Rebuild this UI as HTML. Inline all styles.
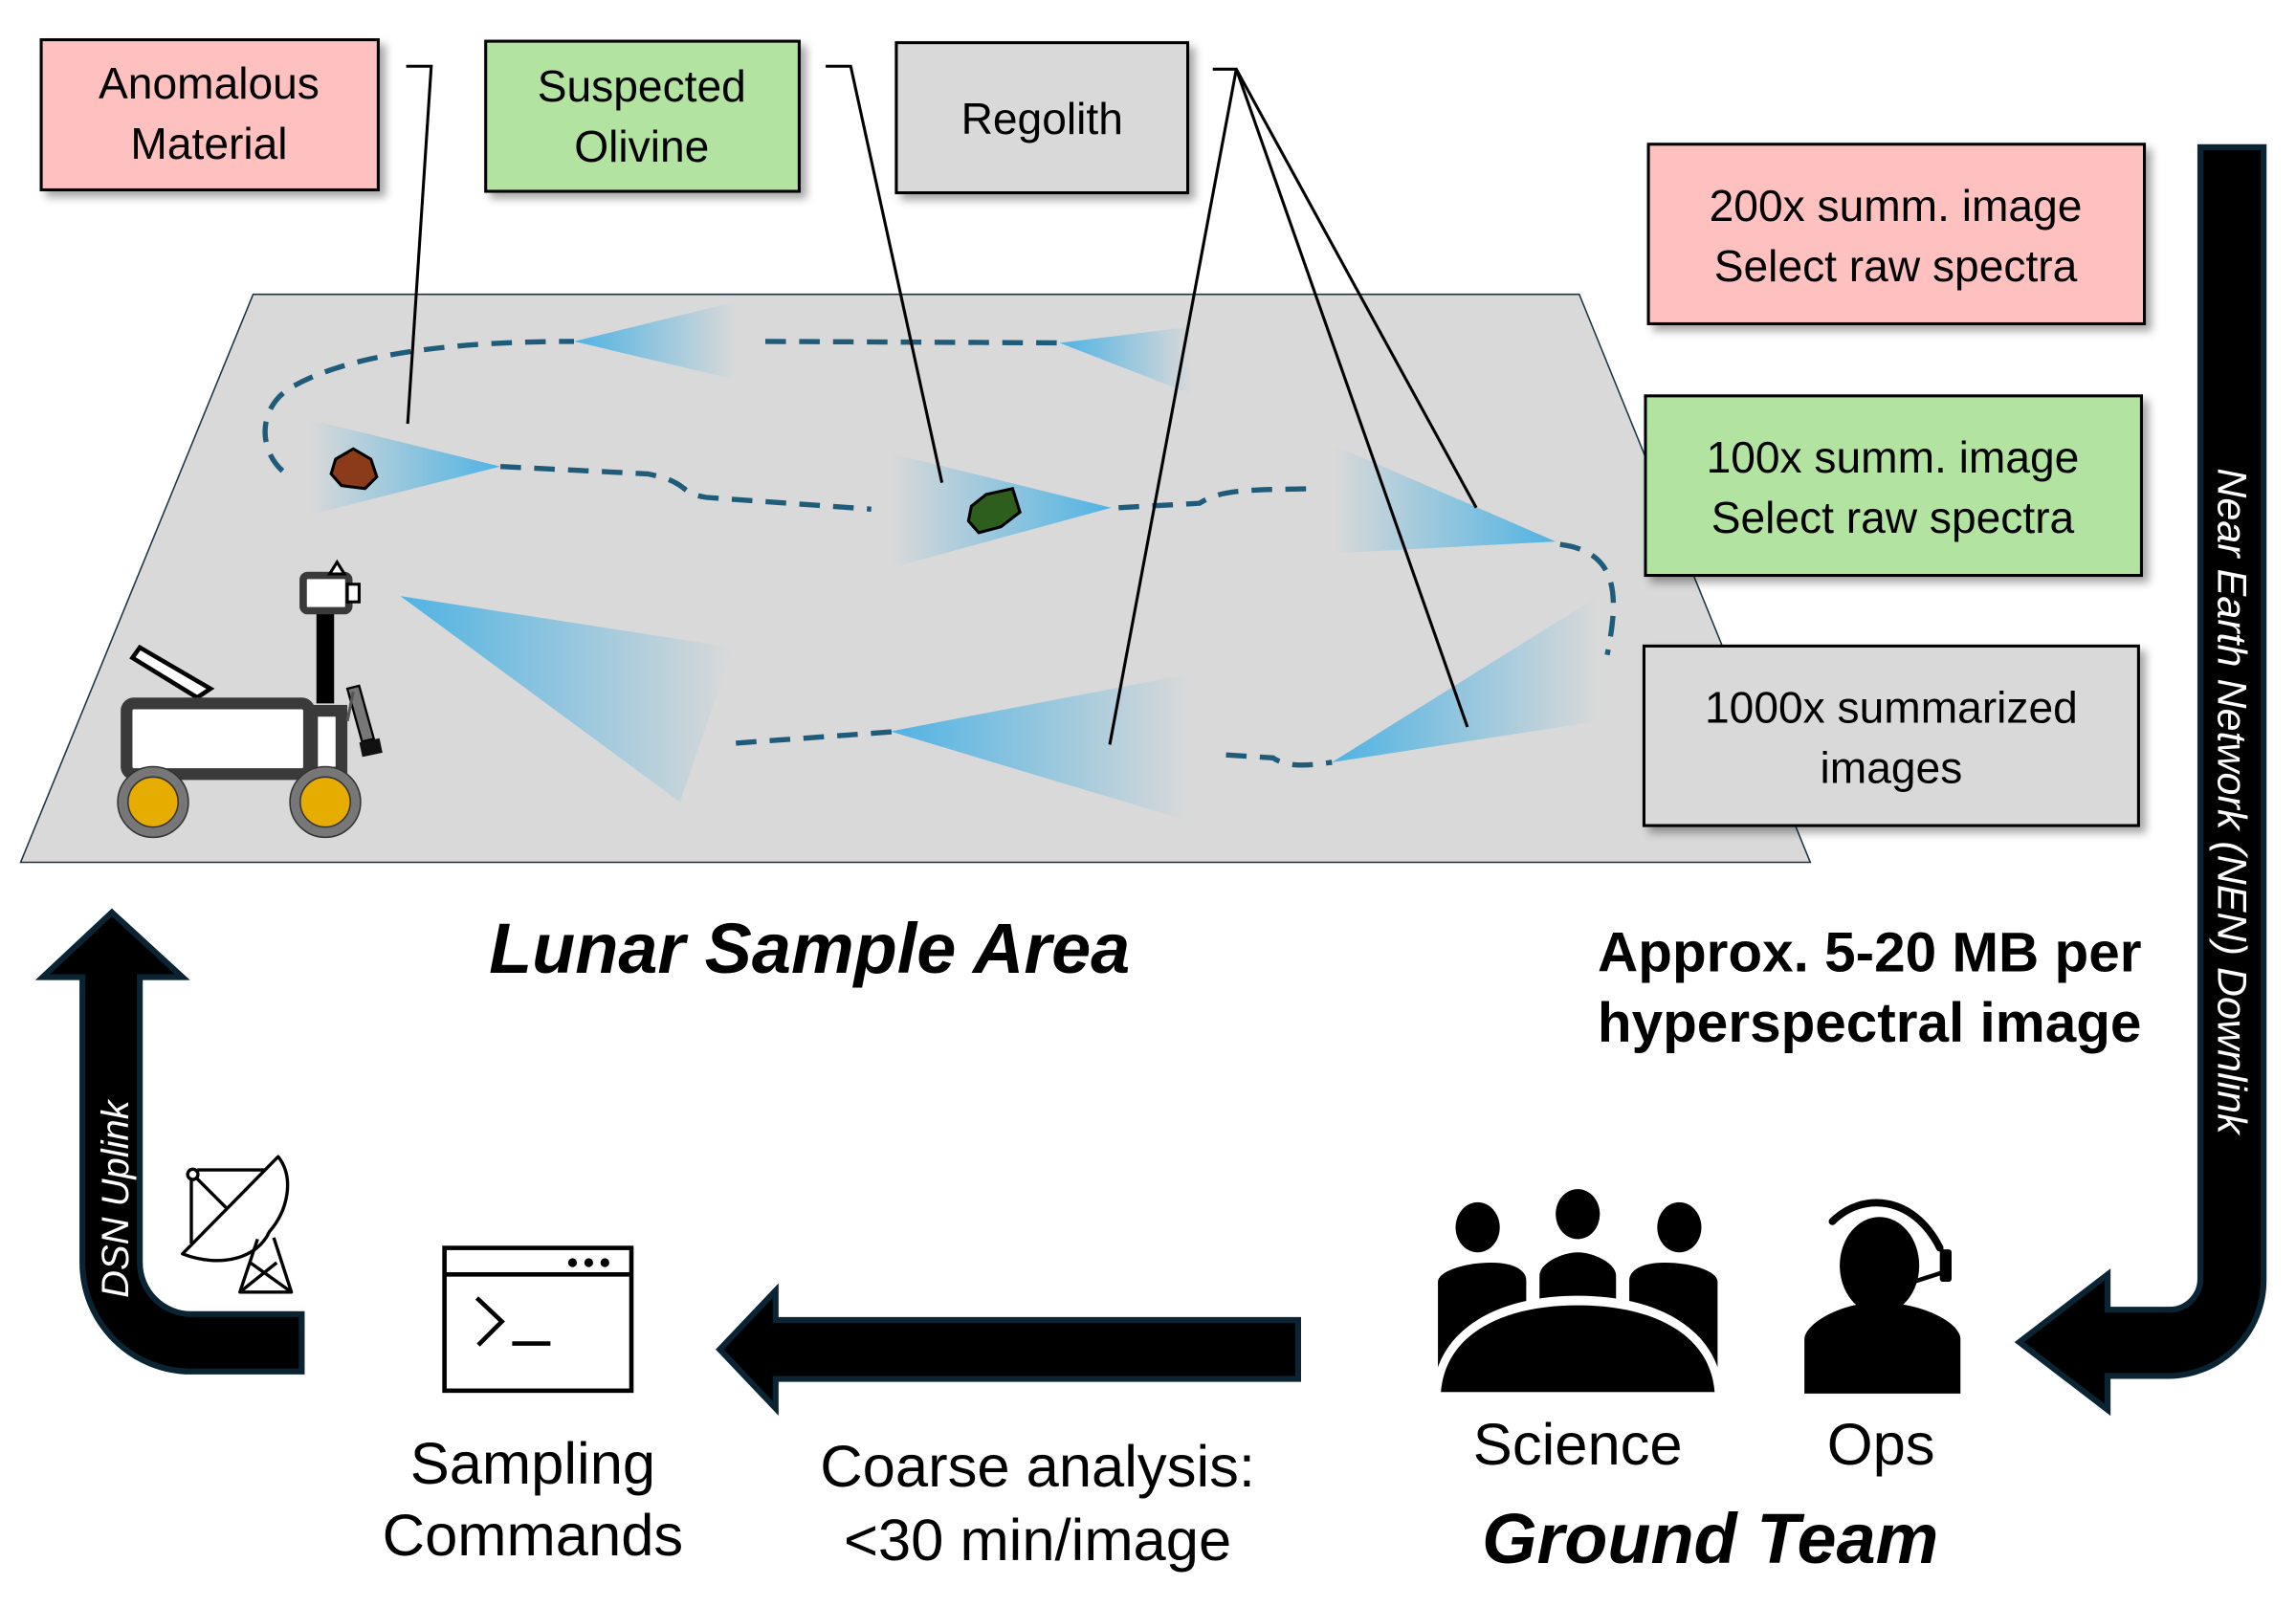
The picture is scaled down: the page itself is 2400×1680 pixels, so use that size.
<!DOCTYPE html>
<html><head><meta charset="utf-8"><style>
html,body{margin:0;padding:0;background:#fff;}
svg{display:block;}
text{font-family:"Liberation Sans","DejaVu Sans",sans-serif;}
</style></head><body>
<svg width="2400" height="1680" viewBox="0 0 1560 1092" xmlns="http://www.w3.org/2000/svg">
<defs>
<linearGradient id="gL" x1="1" y1="0" x2="0" y2="0"><stop offset="0" stop-color="#4fb3e3"/><stop offset="1" stop-color="#4fb3e3" stop-opacity="0"/></linearGradient>
<linearGradient id="gR" x1="0" y1="0" x2="1" y2="0"><stop offset="0" stop-color="#4fb3e3"/><stop offset="1" stop-color="#4fb3e3" stop-opacity="0"/></linearGradient>
<filter id="sh" x="-10%" y="-10%" width="130%" height="130%"><feDropShadow dx="4" dy="4" stdDeviation="3" flood-color="#000" flood-opacity="0.35"/></filter>
</defs>
<rect width="1560" height="1092" fill="#fff"/>
<polygon points="172,200 1073,200 1230,586 14,586" fill="#d9d9d9" stroke="#1a3344" stroke-width="1"/>
<polygon points="340,317 210,285 210,350" fill="url(#gL)"/>
<polygon points="390,232 500,205 500,258" fill="url(#gR)"/>
<polygon points="720,233 810,222 810,268" fill="url(#gR)"/>
<polygon points="755,345 605,308 605,386" fill="url(#gL)"/>
<polygon points="1057,368 905,302 905,376" fill="url(#gL)"/>
<polygon points="272,405 498,440 462,545" fill="url(#gR)"/>
<polygon points="605,497 808,458 808,558" fill="url(#gR)"/>
<polygon points="905,518 1086,405 1086,490" fill="url(#gR)"/>
<g fill="none" stroke="#1f5c7a" stroke-width="3.5" stroke-dasharray="14,9">
<path d="M192,320 C175,305 175,275 200,262 C240,240 310,232 390,232"/>
<path d="M520,232 L722,233"/>
<path d="M340,317 L440,322 C470,328 460,335 480,338 L592,346"/>
<path d="M760,345 L815,342 C830,332 850,333 895,332"/>
<path d="M1060,370 C1100,375 1100,405 1092,445"/>
<path d="M500,505 L610,497"/>
<path d="M833,513 L865,515 C875,522 890,520 905,518"/>
</g>
<path d="M228,312 L240,305 L252,312 L256,324 L248,332 L232,330 L225,322 Z" fill="#8b3a1a" stroke="#000" stroke-width="2"/>
<path d="M660,344 L670,336 L688,332 L693,348 L680,358 L665,362 L658,354 Z" fill="#2e5e1e" stroke="#000" stroke-width="2"/>
<g fill="none" stroke="#000" stroke-width="2">
<polyline points="276,45 293,45 277,288"/>
<polyline points="561,45 578,45 640,328"/>
<polyline points="824,47 840,47 1003,345"/>
<line x1="840" y1="47" x2="997" y2="494"/>
<line x1="840" y1="47" x2="754" y2="506"/>
</g>
<g stroke="#000" stroke-width="2" filter="url(#sh)">
<rect x="28" y="27" width="229" height="102" fill="#ffc0c0"/>
<rect x="330" y="28" width="213" height="102" fill="#b3e3a0"/>
<rect x="609" y="29" width="198" height="102" fill="#d9d9d9"/>
<rect x="1120" y="98" width="337" height="122" fill="#ffc0c0"/>
<rect x="1118" y="269" width="337" height="122" fill="#b3e3a0"/>
<rect x="1117" y="439" width="336" height="122" fill="#d9d9d9"/>
</g>
<g font-size="30" text-anchor="middle" fill="#000">
<text x="142" y="67">Anomalous</text><text x="142" y="108">Material</text>
<text x="436" y="69">Suspected</text><text x="436" y="110">Olivine</text>
<text x="708" y="91">Regolith</text>
<text x="1288" y="150">200x summ. image</text><text x="1288" y="191">Select raw spectra</text>
<text x="1286" y="321">100x summ. image</text><text x="1286" y="362">Select raw spectra</text>
<text x="1285" y="491">1000x summarized</text><text x="1285" y="532">images</text>
</g>
<g>
<polygon points="90,447 95,440 143,468 134,474" fill="#fff" stroke="#000" stroke-width="3"/>
<rect x="86" y="478" width="124" height="48" rx="5" fill="#fff" stroke="#3a3a3a" stroke-width="8"/>
<rect x="212" y="483" width="20" height="42" fill="#fff" stroke="#3a3a3a" stroke-width="8"/>
<rect x="215" y="412" width="12" height="66" fill="#000"/>
<rect x="206" y="391" width="31" height="24" rx="3" fill="#fff" stroke="#3a3a3a" stroke-width="5"/>
<polygon points="224,390 229,382 234,390" fill="#fff" stroke="#000" stroke-width="2"/>
<rect x="236" y="397" width="8" height="12" fill="#fff" stroke="#000" stroke-width="2"/>
<polygon points="236,468 244,466 254,502 246,504" fill="#777" stroke="#000" stroke-width="1.5"/>
<line x1="240" y1="470" x2="236" y2="490" stroke="#555" stroke-width="2"/>
<rect x="245" y="503" width="14" height="10" fill="#111" transform="rotate(-12 252 508)"/>
<circle cx="104" cy="545" r="24" fill="#777" stroke="#333" stroke-width="1"/>
<circle cx="104" cy="545" r="17" fill="#e6ad00" stroke="#333" stroke-width="1"/>
<circle cx="221" cy="545" r="24" fill="#777" stroke="#333" stroke-width="1"/>
<circle cx="221" cy="545" r="17" fill="#e6ad00" stroke="#333" stroke-width="1"/>
</g>
<text x="550" y="661" font-size="48" font-weight="bold" font-style="italic" text-anchor="middle">Lunar Sample Area</text>
<g font-size="38" font-weight="bold" text-anchor="end">
<text x="1455" y="660">Approx. 5-20 MB per</text>
<text x="1455" y="708">hyperspectral image</text>
</g>
<g fill="#000" stroke="#0a2433" stroke-width="4" stroke-linejoin="miter">
<path d="M56,664 L56,858 A74 74 0 0 0 130,932 L205,932 L205,893 L130,893 A35 35 0 0 1 95,858 L95,664 L124,664 L76,620 L29,664 Z"/>
<path d="M1495,100 L1538,100 L1538,870 A65 65 0 0 1 1473,935 L1432,935 L1432,958 L1372,912 L1432,866 L1432,890 L1474,890 A21 21 0 0 0 1495,869 Z"/>
<path d="M882,897 L882,937 L527,937 L527,957 L489,917 L527,877 L527,897 Z"/>
</g>
<text transform="translate(87,882) rotate(-90)" font-size="26" font-style="italic" fill="#fff">DSN Uplink</text>
<text transform="translate(1507,318) rotate(90)" font-size="28" font-style="italic" fill="#fff">Near Earth Network (NEN) Downlink</text>
<g fill="none" stroke="#000" stroke-width="2.2" stroke-linejoin="round">
<circle cx="131" cy="798" r="3.5" fill="#fff"/>
<line x1="134" y1="795" x2="183" y2="795"/>
<line x1="130" y1="801" x2="130" y2="845"/>
<line x1="133" y1="800" x2="156" y2="823"/>
<path d="M189,786 L124,852 C150,862 175,855 183,837 C196,822 200,800 189,786 Z" fill="#fff"/>
<path d="M175,842 L163,878 L198,878 L186,841"/>
<line x1="170" y1="858" x2="198" y2="878"/>
<line x1="188" y1="858" x2="163" y2="878"/>
</g>
<g fill="none" stroke="#000" stroke-width="3">
<rect x="302" y="848" width="127" height="97" fill="#fff"/>
<line x1="302" y1="866" x2="429" y2="866"/>
<polyline points="324,882 341,898 325,914"/>
<line x1="348" y1="913" x2="374" y2="913"/>
</g>
<circle cx="389" cy="858" r="3" fill="#000"/><circle cx="400" cy="858" r="3" fill="#000"/><circle cx="411" cy="858" r="3" fill="#000"/>
<!-- science icon -->
<g fill="#000">
<ellipse cx="1004" cy="834" rx="15" ry="17"/>
<ellipse cx="1072" cy="825" rx="15" ry="17"/>
<ellipse cx="1141" cy="834" rx="15" ry="17"/>
<path d="M977,935 L977,871 C977,864 995,858 1013,858 C1030,858 1037,864 1037,870 L1037,897 Z"/>
<path d="M1046,894 L1046,867 C1046,858 1062,851 1072,851 C1082,851 1098,858 1098,867 L1098,894 Z"/>
<path d="M1167,935 L1167,871 C1167,864 1150,858 1131,858 C1114,858 1107,864 1107,870 L1107,897 Z"/>
<path d="M977,946 C980,905 1020,884 1072,884 C1124,884 1164,905 1167,946 Z" stroke="#fff" stroke-width="7"/>
<path d="M979,946 C982,907 1020,887 1072,887 C1124,887 1162,907 1165,946 Z"/>
<rect x="970" y="946" width="205" height="6" fill="#fff"/>
</g>
<g>
<ellipse cx="1277" cy="860" rx="27" ry="33" fill="#000"/>
<path d="M1226,947 L1226,910 C1226,900 1250,885 1277,885 C1304,885 1332,898 1332,910 L1332,947 Z" fill="#000"/>
<path d="M1245,830 C1265,810 1300,812 1318,848" fill="none" stroke="#000" stroke-width="5" stroke-linecap="round"/>
<rect x="1318" y="849" width="8" height="22" rx="2" fill="#000"/>
<circle cx="1291" cy="874" r="5" fill="#000"/>
<line x1="1291" y1="874" x2="1322" y2="864" stroke="#000" stroke-width="3"/>
</g>
<g font-size="40" text-anchor="middle">
<text x="362" y="1008">Sampling</text><text x="362" y="1057">Commands</text>
<text x="705" y="1010">Coarse analysis:</text><text x="705" y="1060">&lt;30 min/image</text>
<text x="1072" y="995">Science</text><text x="1278" y="995">Ops</text>
</g>
<text x="1162" y="1062" font-size="48" font-weight="bold" font-style="italic" text-anchor="middle">Ground Team</text>
</svg>
</body></html>
